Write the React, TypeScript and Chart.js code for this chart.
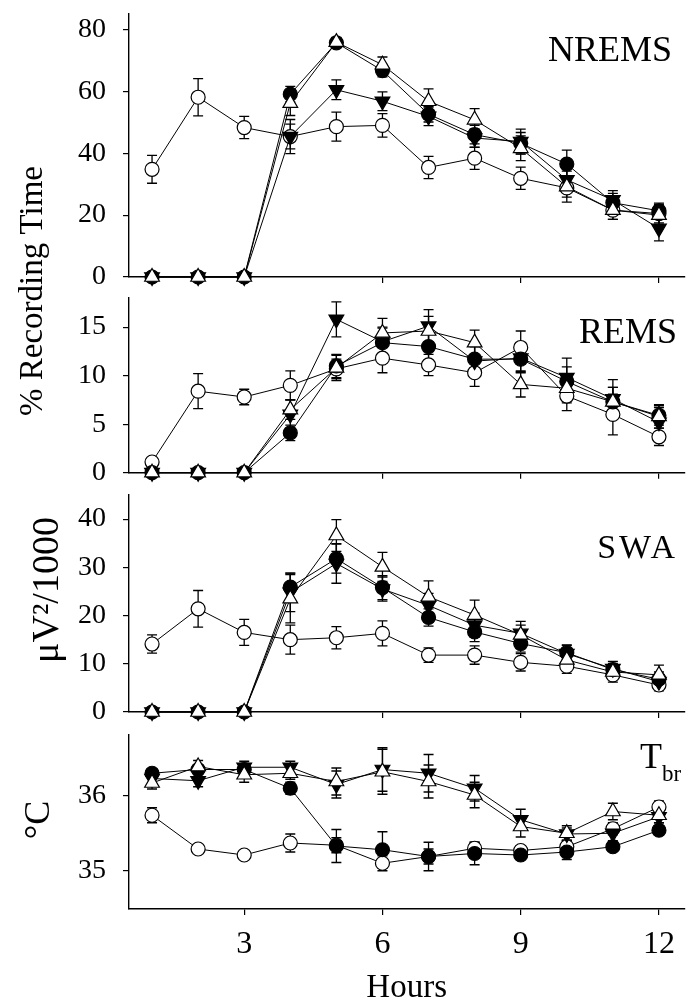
import React, { useEffect, useRef } from "react";
import { Chart, registerables } from "chart.js";

Chart.register(...registerables);

// ---------- shared axis data ----------
const hours = [1, 2, 3, 4, 5, 6, 7, 8, 9, 10, 11, 12];
const xTickValues = [3, 6, 9, 12];

// ---------- NREMS (% recording time) ----------
const nremsTicks = [0, 20, 40, 60, 80];
const nremsOpenCircle = [34.8, 58.1, 48.3, 45.4, 48.6, 49.0, 35.4, 38.4, 31.9, 28.8, 21.6, 20.5];
const nremsFilledCircle = [0, 0, 0, 59.1, 75.7, 66.7, 52.6, 46.0, 43.2, 36.5, 24.0, 21.4];
const nremsOpenTriangle = [0, 0, 0, 56.2, 75.9, 68.6, 56.8, 50.8, 41.6, 29.2, 21.6, 20.0];
const nremsFilledTriangle = [0, 0, 0, 45.4, 60.5, 56.8, 51.9, 44.9, 43.8, 31.4, 24.9, 15.7];
const nremsOpenCircleErr = [4.5, 6.0, 3.6, 4.0, 4.7, 3.8, 3.6, 3.6, 3.6, 3.0, 3.0, 3.0];
const nremsFilledCircleErr = [0, 0, 0, 2.5, 1.5, 2.0, 2.5, 3.0, 3.5, 4.5, 3.0, 2.5];
const nremsOpenTriangleErr = [0, 0, 0, 4.0, 1.5, 2.5, 4.0, 3.6, 4.0, 5.0, 3.0, 3.0];
const nremsFilledTriangleErr = [0, 0, 0, 5.5, 3.2, 3.0, 3.0, 3.0, 4.0, 4.0, 3.0, 4.0];

// ---------- REMS (% recording time) ----------
const remsTicks = [0, 5, 10, 15];
const remsOpenCircle = [1.1, 8.4, 7.8, 9.0, 10.7, 11.8, 11.1, 10.3, 12.9, 7.9, 6.0, 3.7];
const remsFilledCircle = [0, 0, 0, 4.1, 11.0, 13.4, 13.0, 11.7, 11.7, 9.4, 7.3, 5.9];
const remsOpenTriangle = [0, 0, 0, 6.5, 10.8, 14.4, 14.6, 13.4, 9.1, 8.7, 7.3, 5.8];
const remsFilledTriangle = [0, 0, 0, 6.0, 15.8, 13.5, 15.1, 11.5, 11.8, 9.8, 7.6, 5.2];
const remsOpenCircleErr = [0.3, 1.8, 0.8, 1.5, 1.0, 1.5, 1.1, 1.4, 1.7, 1.5, 2.1, 0.9];
const remsFilledCircleErr = [0, 0, 0, 0.8, 1.2, 1.5, 1.5, 1.3, 1.2, 1.5, 1.5, 1.0];
const remsOpenTriangleErr = [0, 0, 0, 1.0, 1.3, 1.5, 1.5, 1.3, 1.3, 1.5, 1.5, 1.2];
const remsFilledTriangleErr = [0, 0, 0, 1.5, 1.8, 1.5, 1.7, 1.5, 1.5, 2.0, 2.0, 1.5];

// ---------- SWA (µV²/1000) ----------
const swaTicks = [0, 10, 20, 30, 40];
const swaOpenCircle = [14.1, 21.4, 16.5, 15.0, 15.4, 16.3, 11.8, 11.8, 10.3, 9.5, 7.7, 5.6];
const swaFilledCircle = [0, 0, 0, 25.9, 31.8, 25.8, 19.6, 16.6, 14.2, 12.3, 8.8, 6.8];
const swaOpenTriangle = [0, 0, 0, 23.5, 36.6, 30.1, 23.9, 20.1, 16.0, 10.8, 8.3, 7.7];
const swaFilledTriangle = [0, 0, 0, 24.8, 30.8, 25.5, 22.1, 18.0, 16.3, 12.1, 9.0, 6.3];
const swaOpenCircleErr = [1.9, 3.8, 2.7, 3.0, 2.3, 2.6, 1.5, 1.9, 1.8, 1.5, 1.5, 1.2];
const swaFilledCircleErr = [0, 0, 0, 2.9, 3.0, 2.5, 1.8, 2.0, 1.8, 1.5, 1.3, 1.5];
const swaOpenTriangleErr = [0, 0, 0, 5.0, 3.3, 3.0, 3.3, 3.1, 2.0, 1.5, 1.5, 2.0];
const swaFilledTriangleErr = [0, 0, 0, 4.0, 4.1, 2.5, 2.5, 2.5, 2.5, 1.8, 1.5, 1.5];

// ---------- Tbr (°C) ----------
const tbrTicks = [35, 36];
const tbrOpenCircle = [35.74, 35.29, 35.21, 35.37, 35.34, 35.1, 35.19, 35.3, 35.27, 35.32, 35.56, 35.85];
const tbrFilledCircle = [36.3, 36.35, 36.35, 36.1, 35.33, 35.28, 35.19, 35.23, 35.21, 35.25, 35.32, 35.54];
const tbrOpenTriangle = [36.17, 36.39, 36.28, 36.3, 36.19, 36.32, 36.19, 36.01, 35.59, 35.5, 35.79, 35.74];
const tbrFilledTriangle = [36.23, 36.2, 36.38, 36.38, 36.15, 36.35, 36.3, 36.1, 35.68, 35.49, 35.5, 35.72];
const tbrOpenCircleErr = [0.1, 0.05, 0.05, 0.12, 0.1, 0.1, 0.1, 0.08, 0.06, 0.08, 0.08, 0.08];
const tbrFilledCircleErr = [0.05, 0.05, 0.08, 0.08, 0.22, 0.24, 0.19, 0.15, 0.06, 0.1, 0.06, 0.06];
const tbrOpenTriangleErr = [0.08, 0.08, 0.1, 0.08, 0.18, 0.3, 0.22, 0.17, 0.14, 0.1, 0.11, 0.1];
const tbrFilledTriangleErr = [0.08, 0.08, 0.08, 0.08, 0.18, 0.29, 0.25, 0.17, 0.14, 0.08, 0.1, 0.08];

// ---------- styles ----------
const W = 694;
const H = 1005;
const FONT = '"Liberation Serif", "Times New Roman", serif';
const AXIS_LEFT = 129;
const AXIS_RIGHT = 687;

const markerStyles = {
  openTriangle: { pointStyle: "triangle", rotation: 0, fill: "#ffffff", radius: 8.5 },
  filledCircle: { pointStyle: "circle", rotation: 0, fill: "#000000", radius: 7 },
  filledTriangle: { pointStyle: "triangle", rotation: 180, fill: "#000000", radius: 8.5 },
  openCircle: { pointStyle: "circle", rotation: 0, fill: "#ffffff", radius: 7 },
};

type TextItem = {
  text: string;
  x: number;
  y: number;
  size: number;
  align?: CanvasTextAlign;
  baseline?: CanvasTextBaseline;
  rotate?: number;
  spacing?: number;
};

type PanelSpec = {
  id: string;
  top: number;
  bottom: number;
  yMin: number;
  yMax: number;
  yTicks: number[];
  series: { key: keyof typeof markerStyles; values: number[]; errors: number[] }[];
  texts: TextItem[];
  bottomAxis: boolean;
};

const panels: PanelSpec[] = [
  {
    id: "nrems",
    top: 14,
    bottom: 277,
    yMin: 0,
    yMax: 85,
    yTicks: nremsTicks,
    series: [
      { key: "openTriangle", values: nremsOpenTriangle, errors: nremsOpenTriangleErr },
      { key: "filledCircle", values: nremsFilledCircle, errors: nremsFilledCircleErr },
      { key: "filledTriangle", values: nremsFilledTriangle, errors: nremsFilledTriangleErr },
      { key: "openCircle", values: nremsOpenCircle, errors: nremsOpenCircleErr },
    ],
    texts: [
      { text: "NREMS", x: 672, y: 61, size: 36, align: "right" },
      { text: "% Recording Time", x: 33, y: 291, size: 33, align: "center", baseline: "middle", rotate: -Math.PI / 2 },
    ],
    bottomAxis: false,
  },
  {
    id: "rems",
    top: 298,
    bottom: 472.7,
    yMin: 0,
    yMax: 18,
    yTicks: remsTicks,
    series: [
      { key: "openTriangle", values: remsOpenTriangle, errors: remsOpenTriangleErr },
      { key: "filledCircle", values: remsFilledCircle, errors: remsFilledCircleErr },
      { key: "filledTriangle", values: remsFilledTriangle, errors: remsFilledTriangleErr },
      { key: "openCircle", values: remsOpenCircle, errors: remsOpenCircleErr },
    ],
    texts: [{ text: "REMS", x: 677, y: 343, size: 36, align: "right" }],
    bottomAxis: false,
  },
  {
    id: "swa",
    top: 495,
    bottom: 712,
    yMin: 0,
    yMax: 45,
    yTicks: swaTicks,
    series: [
      { key: "openTriangle", values: swaOpenTriangle, errors: swaOpenTriangleErr },
      { key: "filledCircle", values: swaFilledCircle, errors: swaFilledCircleErr },
      { key: "filledTriangle", values: swaFilledTriangle, errors: swaFilledTriangleErr },
      { key: "openCircle", values: swaOpenCircle, errors: swaOpenCircleErr },
    ],
    texts: [
      { text: "SWA", x: 678, y: 558, size: 34, align: "right", spacing: 3 },
      { text: "\u03bcV\u00b2/1000", x: 48, y: 590, size: 38, align: "center", baseline: "middle", rotate: -Math.PI / 2 },
    ],
    bottomAxis: false,
  },
  {
    id: "tbr",
    top: 735,
    bottom: 909,
    yMin: 34.49,
    yMax: 36.81,
    yTicks: tbrTicks,
    series: [
      { key: "openTriangle", values: tbrOpenTriangle, errors: tbrOpenTriangleErr },
      { key: "filledCircle", values: tbrFilledCircle, errors: tbrFilledCircleErr },
      { key: "filledTriangle", values: tbrFilledTriangle, errors: tbrFilledTriangleErr },
      { key: "openCircle", values: tbrOpenCircle, errors: tbrOpenCircleErr },
    ],
    texts: [
      { text: "T", x: 662, y: 768, size: 36, align: "right" },
      { text: "br", x: 662, y: 781, size: 23, align: "left" },
      { text: "\u00b0C", x: 40, y: 820, size: 36, align: "center", baseline: "middle", rotate: -Math.PI / 2 },
    ],
    bottomAxis: true,
  },
];

// ---------- plugins ----------
const errorBarPlugin = {
  id: "errorBars",
  beforeDatasetsDraw(chart: any) {
    const ctx = chart.ctx;
    const yScale = chart.scales.y;
    ctx.save();
    ctx.strokeStyle = "#000";
    ctx.lineWidth = 1.3;
    chart.data.datasets.forEach((ds: any, i: number) => {
      const errs: number[] = ds.errorBars;
      if (!errs) return;
      const meta = chart.getDatasetMeta(i);
      meta.data.forEach((pt: any, j: number) => {
        const e = errs[j];
        if (!e) return;
        const v = ds.data[j].y;
        const x = pt.x;
        const yTop = yScale.getPixelForValue(v + e);
        const yBot = yScale.getPixelForValue(v - e);
        ctx.beginPath();
        ctx.moveTo(x, yTop);
        ctx.lineTo(x, yBot);
        ctx.moveTo(x - 5, yTop);
        ctx.lineTo(x + 5, yTop);
        ctx.moveTo(x - 5, yBot);
        ctx.lineTo(x + 5, yBot);
        ctx.stroke();
      });
    });
    ctx.restore();
  },
};

function makeTextPlugin(items: TextItem[]) {
  return {
    id: "panelText",
    afterDraw(chart: any) {
      const ctx = chart.ctx;
      items.forEach((it) => {
        ctx.save();
        ctx.fillStyle = "#000";
        ctx.font = `${it.size}px ${FONT}`;
        ctx.textAlign = it.align || "left";
        ctx.textBaseline = it.baseline || "alphabetic";
        if (it.spacing) (ctx as any).letterSpacing = `${it.spacing}px`;
        ctx.translate(it.x, it.y);
        if (it.rotate) ctx.rotate(it.rotate);
        ctx.fillText(it.text, 0, 0);
        ctx.restore();
      });
    },
  };
}

function buildConfig(p: PanelSpec): any {
  const xHeight = p.bottomAxis ? H - p.bottom : 8;
  return {
    type: "line",
    data: {
      datasets: p.series.map((s) => {
        const m = markerStyles[s.key];
        return {
          label: s.key,
          data: s.values.map((v, i) => ({ x: hours[i], y: v })),
          errorBars: s.errors,
          borderColor: "#000",
          borderWidth: 1,
          tension: 0,
          fill: false,
          clip: false,
          pointStyle: m.pointStyle,
          pointRotation: m.rotation,
          pointRadius: m.radius,
          pointBackgroundColor: m.fill,
          pointBorderColor: "#000",
          pointBorderWidth: 1.2,
        };
      }),
    },
    options: {
      responsive: false,
      animation: false,
      events: [],
      layout: {
        padding: {
          left: 0,
          right: W - AXIS_RIGHT,
          top: p.top,
          bottom: p.bottomAxis ? 0 : H - p.bottom - xHeight,
        },
      },
      plugins: {
        legend: { display: false },
        tooltip: { enabled: false },
        title: { display: false },
      },
      scales: {
        x: {
          type: "linear",
          min: 0.5,
          max: 12.55,
          afterBuildTicks: (scale: any) => {
            scale.ticks = xTickValues.map((v) => ({ value: v }));
          },
          afterFit: (scale: any) => {
            scale.height = xHeight;
            scale.paddingLeft = 0;
            scale.paddingRight = 0;
          },
          grid: {
            display: true,
            drawOnChartArea: false,
            drawTicks: true,
            tickLength: 6,
            color: "#000",
            lineWidth: 1.2,
          },
          border: { display: true, color: "#000", width: 1.4 },
          ticks: {
            display: p.bottomAxis,
            color: "#000",
            padding: 10,
            maxRotation: 0,
            font: { family: FONT, size: 32 },
          },
          title: {
            display: p.bottomAxis,
            text: "Hours",
            color: "#000",
            padding: { top: 0, bottom: 0 },
            font: { family: FONT, size: 33, lineHeight: 1 },
          },
        },
        y: {
          type: "linear",
          min: p.yMin,
          max: p.yMax,
          afterBuildTicks: (scale: any) => {
            scale.ticks = p.yTicks.map((v) => ({ value: v }));
          },
          afterFit: (scale: any) => {
            scale.width = AXIS_LEFT;
            scale.paddingTop = 0;
            scale.paddingBottom = 0;
          },
          grid: {
            display: true,
            drawOnChartArea: false,
            drawTicks: true,
            tickLength: 6,
            color: "#000",
            lineWidth: 1.2,
          },
          border: { display: true, color: "#000", width: 1.4 },
          ticks: {
            color: "#000",
            padding: 17,
            font: { family: FONT, size: 28 },
          },
        },
      },
    },
    plugins: [errorBarPlugin, makeTextPlugin(p.texts)],
  };
}

function Panel({ spec }: { spec: PanelSpec }) {
  const ref = useRef<HTMLCanvasElement>(null);
  useEffect(() => {
    if (!ref.current) return;
    const chart = new Chart(ref.current, buildConfig(spec));
    return () => chart.destroy();
  }, [spec]);
  return (
    <canvas
      ref={ref}
      width={W}
      height={H}
      style={{ position: "absolute", left: 0, top: 0, width: W, height: H }}
    />
  );
}

export default function App() {
  return (
    <div style={{ position: "absolute", left: 0, top: 0, width: W, height: H, background: "#fff" }}>
      {panels.map((p) => (
        <Panel key={p.id} spec={p} />
      ))}
    </div>
  );
}
